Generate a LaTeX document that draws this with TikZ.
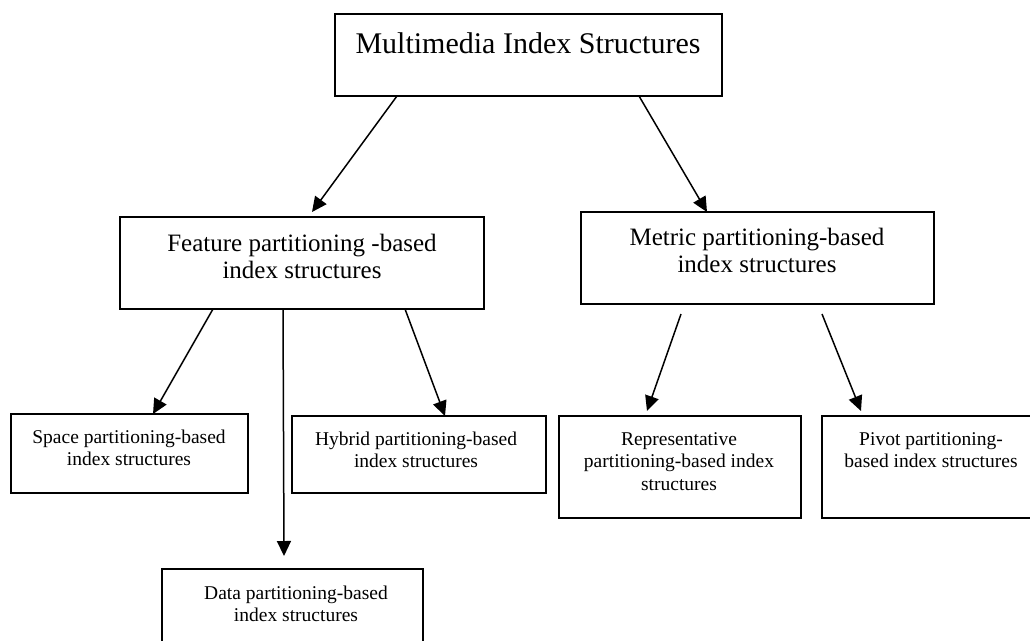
\documentclass[tikz,border=0pt]{standalone}
\usepackage{fontspec}
\setmainfont{Liberation Serif}
\usetikzlibrary{arrows.meta,calc}

% centred lines of text whose reference point is the first baseline
\newcommand\boxlines[2]{\parbox[t]{#1}{\centering #2}}

\begin{document}
\begin{tikzpicture}[x=1pt,y=-1pt,
  box/.style={draw, line width=1.8pt, rectangle, inner sep=0pt, outer sep=0pt, anchor=north west},
  lbl/.style={anchor=base, inner sep=0pt},
  big/.style={font=\fontsize{30}{34}\selectfont},
  mid/.style={font=\fontsize{25}{27.5}\selectfont},
  small/.style={font=\fontsize{19.5}{22.5}\selectfont},
  link/.style={line width=1.5pt, -{Triangle[length=15pt,width=14pt]}}]

\useasboundingbox (0,0) rectangle (1030,640);
\clip (0,0) rectangle (1030,640);

% root
\node[box, minimum width=387pt, minimum height=82pt] (top) at (335,14) {};
\node[lbl, big] (topT) at (528,53) {Multimedia Index Structures};

% second level
\node[box, minimum width=364pt, minimum height=92pt] (feat) at (120,217) {};
\node[lbl, mid] (featT) at (302,251) {\boxlines{360pt}{Feature partitioning -based\\index structures}};

\node[box, minimum width=353pt, minimum height=92pt] (metric) at (581,212) {};
\node[lbl, mid] (metricT) at (757,245) {\boxlines{350pt}{Metric partitioning-based\\index structures}};

% leaves under the feature branch
\node[box, minimum width=237pt, minimum height=79pt] (space) at (11,414) {};
\node[lbl, small] (spaceT) at (129,443) {\boxlines{235pt}{Space partitioning-based\\index structures}};

\node[box, minimum width=254pt, minimum height=77pt] (hybrid) at (292,416) {};
\node[lbl, small] (hybridT) at (416,445) {\boxlines{250pt}{Hybrid partitioning-based\\index structures}};

\node[box, minimum width=261pt, minimum height=90pt] (data) at (162,569) {};
\node[lbl, small] (dataT) at (296,599) {\boxlines{255pt}{Data partitioning-based\\index structures}};

% leaves under the metric branch
\node[box, minimum width=242pt, minimum height=102pt] (rep) at (559,416) {};
\node[lbl, small] (repT) at (679,445) {\boxlines{240pt}{Representative\\partitioning-based index\\structures}};

\node[box, minimum width=240pt, minimum height=102pt] (pivot) at (822,416) {};
\node[lbl, small] (pivotT) at (931,445) {\boxlines{235pt}{Pivot partitioning-\\based index structures}};

% connectors
\draw[link] ($(top.south west)+(62,0)$) -- ($(feat.north west)+(192,-5)$);
\draw[link] ($(top.south west)+(304,0)$) -- ($(metric.north west)+(126,0)$);
\draw[link] ($(feat.south west)+(93,0)$) -- ($(space.north west)+(142,0)$);
\draw[link] ($(feat.south west)+(163,0)$) -- ($(data.north west)+(122,-13)$);
\draw[link] ($(feat.south west)+(285,0)$) -- ($(hybrid.north west)+(153,0)$);
\draw[link] ($(metric.south west)+(100,10)$) -- ($(rep.north west)+(88,-5)$);
\draw[link] ($(metric.south west)+(241,10)$) -- ($(pivot.north west)+(39,-5)$);
\end{tikzpicture}
\end{document}
